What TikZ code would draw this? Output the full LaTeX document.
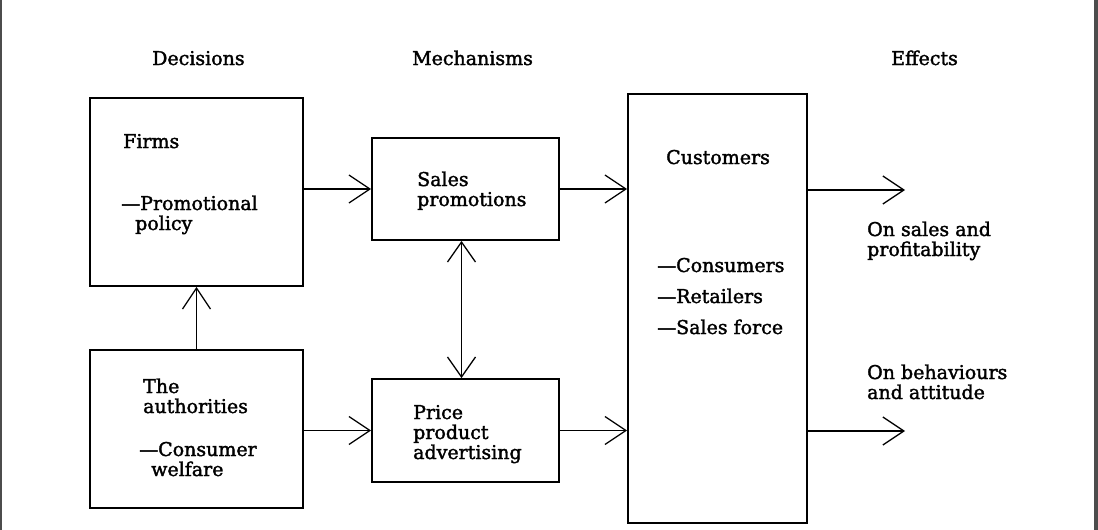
\documentclass[tikz,border=0pt]{standalone}
\usepackage{fontspec}
\setmainfont{DejaVu Serif}
\newfontface\heavy{DejaVu Serif}[FakeBold=1.8]
\usetikzlibrary{arrows.meta}
\begin{document}
\begin{tikzpicture}[x=1pt,y=-1pt,
  box/.style={draw, line width=1.8pt, rectangle, inner sep=0pt},
  lbl/.style={anchor=base west, inner sep=0pt, align=left, font=\heavy\fontsize{19pt}{20pt}\selectfont},
  conn/.style={line width=1.3pt, -{Straight Barb[length=21pt,width=28pt,line width=1.3pt]}},
  dconn/.style={line width=1.3pt, {Straight Barb[length=20pt,width=28pt,line width=1.3pt]}-{Straight Barb[length=20pt,width=28pt,line width=1.3pt]}}]
\useasboundingbox (0,0) rectangle (1098,530);
\fill[black!70] (0,0) rectangle (1.8,530);
\fill[black!70] (1094,0) rectangle (1098,530);
% headings
\node[lbl] (hdec) at (152,65) {Decisions};
\node[lbl] (hmech) at (412,65) {Mechanisms};
\node[lbl] (heff) at (891,65) {Effects};
% boxes
\node[box, minimum width=213pt, minimum height=188pt] (firms) at (196.5,192) {};
\node[box, minimum width=213pt, minimum height=158pt] (auth) at (196.5,429) {};
\node[box, minimum width=187pt, minimum height=102pt] (sales) at (465.5,189) {};
\node[box, minimum width=187pt, minimum height=103pt] (price) at (465.5,430.5) {};
\node[box, minimum width=179pt, minimum height=429pt] (cust) at (717.5,308.5) {};
% texts (anchor at baseline of last line)
\node[lbl] (tfirms) at (123,148) {Firms};
\node[lbl] (tpromo) at (121,230) {—Promotional\\\hspace*{14pt}policy};
\node[lbl] (tauth) at (143,413) {The\\authorities};
\node[lbl] (twelf) at (139,476) {—Consumer\\\hspace*{12pt}welfare};
\node[lbl] (tsales) at (417,206) {Sales\\promotions};
\node[lbl] (tprice) at (413,459) {Price\\product\\advertising};
\node[lbl] (tcust) at (666,164) {Customers};
\node[lbl] (tcons) at (657,272) {—Consumers};
\node[lbl] (tret) at (657,303) {—Retailers};
\node[lbl] (tsf) at (657,334) {—Sales force};
\node[lbl] (tsp) at (867,256) {On sales and\\profitability};
\node[lbl] (tba) at (867,399) {On behaviours\\and attitude};
% connectors
\coordinate (e1) at (905,190);
\coordinate (e2) at (905,431);
\draw[conn] (firms.east |- sales.west) -- (sales.west);
\draw[conn] (sales.east) -- (sales.east -| cust.west);
\draw[conn] (auth.east |- price.west) -- (price.west);
\draw[conn] (price.east) -- (price.east -| cust.west);
\draw[conn] (auth.north) -- (firms.south);
\draw[dconn] ([xshift=-4pt]sales.south) -- ([xshift=-4pt]price.north);
\draw[conn] (cust.east |- e1) -- (e1);
\draw[conn] (cust.east |- e2) -- (e2);
\end{tikzpicture}
\end{document}
